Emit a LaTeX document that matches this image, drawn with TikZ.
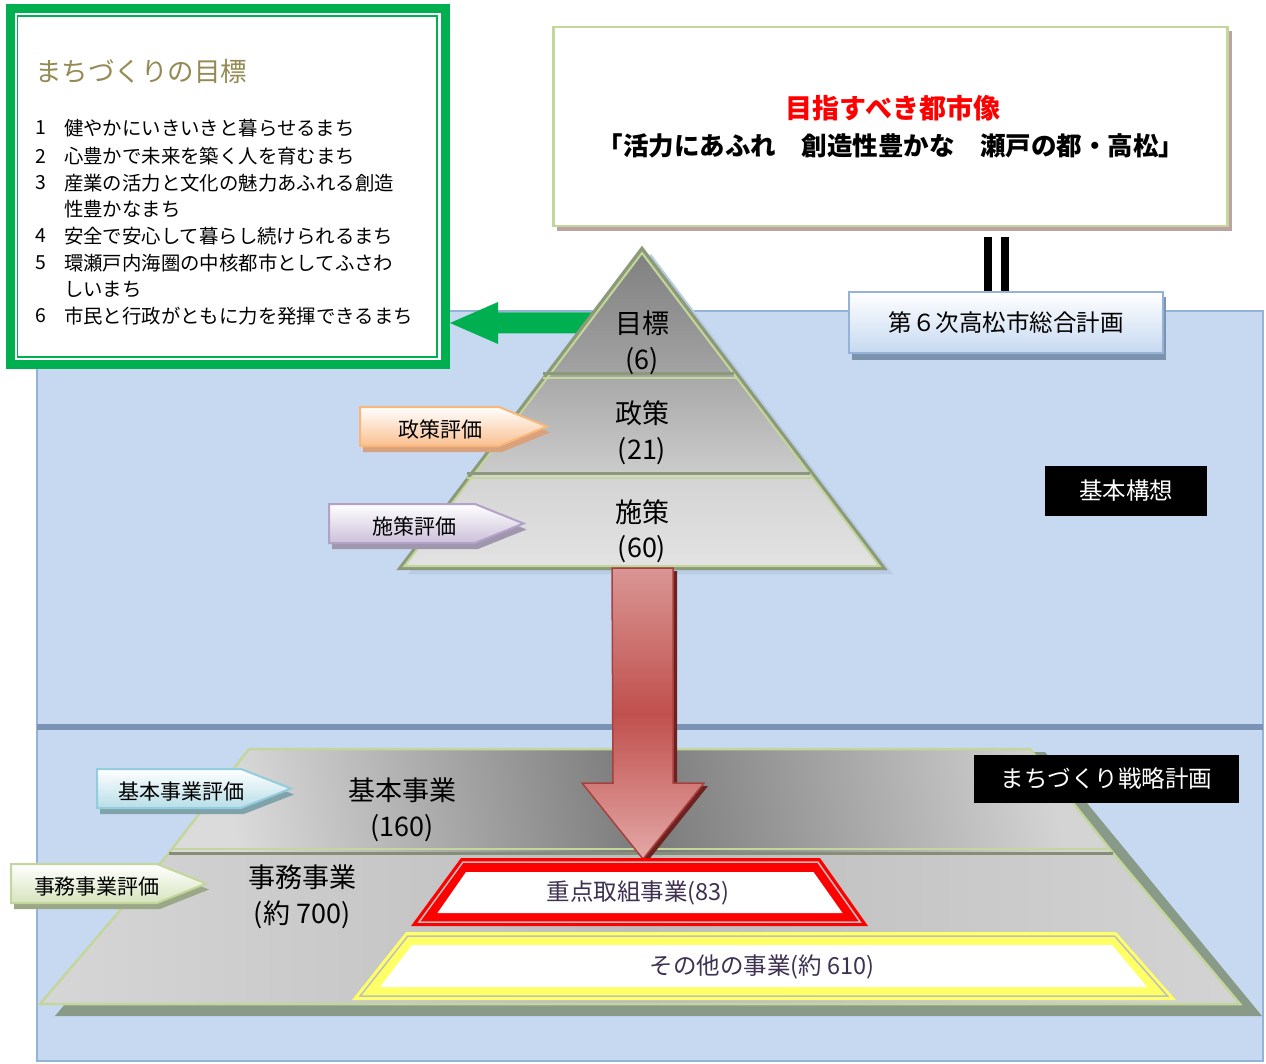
\documentclass[tikz,border=0pt]{standalone}
\usepackage{fontspec}
\setmainfont{Noto Sans CJK JP}
\usetikzlibrary{calc}
\definecolor{panelblue}{HTML}{C6D9F1}
\definecolor{panelborder}{HTML}{95B3D7}
\definecolor{sepcol}{HTML}{7B93B4}
\definecolor{mgreen}{HTML}{00B050}
\definecolor{olivetitle}{HTML}{948A54}
\definecolor{lgreen}{HTML}{C3D69B}
\definecolor{pyrdark}{HTML}{8C9A7A}
\definecolor{boxshadow}{HTML}{BBA3A3}
\definecolor{gsixblue}{HTML}{C6D9F1}
\definecolor{gsixshadow}{HTML}{7D92AD}
\definecolor{lowshadow}{HTML}{8A9A88}
\definecolor{darkpurple}{HTML}{3F3151}
\definecolor{ryellow}{HTML}{FFFF66}
\definecolor{pyrshadow}{HTML}{B8CCE4}
\definecolor{orshadow}{HTML}{D9A27C}
\definecolor{orfill}{HTML}{FAC090}
\definecolor{ordraw}{HTML}{F9B77C}
\definecolor{pushadow}{HTML}{A096AE}
\definecolor{pufill}{HTML}{CCC0DA}
\definecolor{pudraw}{HTML}{B3A2C7}
\definecolor{cyshadow}{HTML}{7FA2AB}
\definecolor{cyfill}{HTML}{B7DEE8}
\definecolor{cydraw}{HTML}{93CDDD}
\definecolor{gnshadow}{HTML}{9BA888}
\definecolor{gnfill}{HTML}{D7E4BD}
\definecolor{gndraw}{HTML}{C3D69B}
\definecolor{divdark}{HTML}{858F78}
\definecolor{rashadow}{HTML}{6E2220}
\definecolor{ratop}{HTML}{D99694}
\definecolor{ramid}{HTML}{C0504D}
\definecolor{rabot}{HTML}{E3A8A6}
\definecolor{radraw}{HTML}{A8403D}
\definecolor{framegray}{HTML}{BFBFBF}
\newcommand{\fsz}[1]{\fontsize{#1}{#1}\selectfont}
\begin{document}
\begin{tikzpicture}[x=1pt,y=-1pt,
  txt/.style={inner sep=0pt, outer sep=0pt},
  blackbox/.style={fill=black, text=white, inner sep=0pt, font=\fsz{23.5}},
  pyrtext/.style={txt, font=\fsz{27}},
  evtext/.style={txt, font=\fsz{21}},
  listtext/.style={txt, anchor=west, font=\fsz{19.4}},
  frametext/.style={txt, text=darkpurple, font=\fsz{23.5}},
  edgeline/.style={lgreen, line width=2.5, line join=miter}]
\useasboundingbox (0,0) rectangle (1266,1064);
\fill[white] (0,0) rectangle (1266,1064);

% ---------- blue panel ----------
\fill[panelblue] (37,311) rectangle (1263,1061);
\draw[panelborder, line width=2] (37,311) rectangle (1263,1061);
\draw[sepcol, line width=6] (37,727) -- (1263,727);

% ---------- goal box ----------
\node[draw=mgreen, line width=9, fill=white, minimum width=435pt, minimum height=356pt, inner sep=0pt] (goal) at (228,186.5) {};
\draw[mgreen, line width=1.5] (17.5,16) rectangle (437,357);
\node[txt, anchor=west, text=olivetitle, font=\fsz{26.5}] (goaltitle) at (35,71) {まちづくりの目標};
\node[listtext] (n1) at (35,128) {1};
\node[listtext] (t1) at (64,128) {健やかにいきいきと暮らせるまち};
\node[listtext] (n2) at (35,156) {2};
\node[listtext] (t2) at (64,156) {心豊かで未来を築く人を育むまち};
\node[listtext] (n3) at (35,183) {3};
\node[listtext] (t3) at (64,183) {産業の活力と文化の魅力あふれる創造};
\node[listtext] (t3b) at (64,209) {性豊かなまち};
\node[listtext] (n4) at (35,236) {4};
\node[listtext] (t4) at (64,236) {安全で安心して暮らし続けられるまち};
\node[listtext] (n5) at (35,263) {5};
\node[listtext] (t5) at (64,263) {環瀬戸内海圏の中核都市としてふさわ};
\node[listtext] (t5b) at (64,289) {しいまち};
\node[listtext] (n6) at (35,316) {6};
\node[listtext] (t6) at (64,316) {市民と行政がともに力を発揮できるまち};

% ---------- vision box ----------
\fill[boxshadow] (557,31) rectangle (1231.5,231);
\node[draw=lgreen, line width=2.5, fill=white, minimum width=674pt, minimum height=199pt, inner sep=0pt] (vision) at (890.5,126.5) {};
\node[txt, text=red, font=\bfseries\fsz{27}] (visiontitle) at (893,108) {目指すべき都市像};
\node[txt, font=\bfseries\fsz{25.5}] (visionline) at (891,146) {「活力にあふれ　創造性豊かな　瀬戸の都・高松」};

% ---------- general plan box ----------
\fill[gsixshadow] (852,297) rectangle (1166,360);
\node[draw=panelborder, line width=2.5, top color=white, bottom color=gsixblue, minimum width=314pt, minimum height=61pt, inner sep=0pt, font=\fsz{23.5}] (g6) at (1006,322.5) {第６次高松市総合計画};
\draw[black, line width=8, shorten >=10pt] ([xshift=-18pt]g6.north) -- ([xshift=-18pt]g6.north |- vision.south);
\draw[black, line width=8, shorten >=10pt] ([xshift=-1pt]g6.north) -- ([xshift=-1pt]g6.north |- vision.south);

% ---------- green arrow ----------
\coordinate (gaS) at (600,323);
\path (goal.east |- gaS) coordinate (gaT);
\fill[mgreen] (gaT) -- ++(48,-21) -- ++(0,10.5) -- ++(102,0) -- ++(0,21) -- ++(-102,0) -- ++(0,10.5) -- cycle;

% ---------- pyramid ----------
\fill[pyrshadow] (651,254) -- (893,574) -- (408,574) -- cycle;
\shade[top color=black!50, bottom color=black!36] (642,249) -- (738,376) -- (546,376) -- cycle;
\shade[top color=black!34, bottom color=black!20] (546,376) -- (738,376) -- (813,475) -- (471,475) -- cycle;
\shade[top color=black!17, bottom color=black!11] (471,475) -- (813,475) -- (883.5,568) -- (400.5,568) -- cycle;
\draw[pyrdark, line width=4, line join=miter] (642,249) -- (883.5,568) -- (400.5,568) -- cycle;
\draw[lgreen, line width=2, line join=miter] (642,253) -- (879.5,566) -- (404.5,566) -- cycle;
\draw[pyrdark, line width=3] (543,374) -- (734,374);
\draw[lgreen, line width=2] (543,378.5) -- (736,378.5);
\draw[pyrdark, line width=3] (467,473) -- (810,473);
\draw[lgreen, line width=2] (467,477.5) -- (812,477.5);
\node[pyrtext] (p1) at (642,323) {目標};
\node[pyrtext] (p1n) at (642,361) {(6)};
\node[pyrtext] (p2) at (642,413) {政策};
\node[pyrtext] (p2n) at (642,451) {(21)};
\node[pyrtext] (p3) at (642,512) {施策};
\node[pyrtext] (p3n) at (642,549) {(60)};

% ---------- evaluation arrows (upper) ----------
\fill[orshadow] (363,413) -- (502,413) -- (550,432.5) -- (502,452) -- (363,452) -- cycle;
\shade[top color=white, bottom color=orfill, draw=ordraw, line width=2] (360,407) -- (499,407) -- (547,426.5) -- (499,446) -- (360,446) -- cycle;
\node[evtext] (e1) at (440,429) {政策評価};
\fill[pushadow] (332,510) -- (478,510) -- (526.5,529.5) -- (478,549) -- (332,549) -- cycle;
\shade[top color=white, bottom color=pufill, draw=pudraw, line width=2] (329,504) -- (475,504) -- (523.5,523.5) -- (475,543) -- (329,543) -- cycle;
\node[evtext] (e2) at (414,526) {施策評価};

% ---------- lower trapezoid ----------
\fill[lowshadow] (261,761) -- (1045,752) -- (1262,1016) -- (55,1016) -- (181,865) -- cycle;
\shade[left color=black!14, right color=black!17, middle color=black!52, shading angle=100] (249,749) -- (1030,749) -- (1113,853) -- (169,853) -- cycle;
\shade[left color=black!16, right color=black!17, middle color=black!26] (169,853) -- (1113,853) -- (1240,1004) -- (40,1004) -- cycle;
\draw[edgeline] (249,749) -- (1030,749) -- (1113,853);
\draw[edgeline] (169,853) -- (249,749);
\draw[edgeline] (1113,853) -- (1240,1004) -- (40,1004) -- (169,853);
\draw[lgreen, line width=2] (171,849) -- (1110,849);
\draw[divdark, line width=2.5] (169,853.5) -- (1113,853.5);
\node[pyrtext] (b1) at (402,790) {基本事業};
\node[pyrtext] (b1n) at (402,828) {(160)};
\node[pyrtext] (b2) at (302,877) {事務事業};
\node[pyrtext] (b2n) at (302,915) {(約 700)};

% ---------- evaluation arrows (lower) ----------
\fill[cyshadow] (100,775) -- (244,775) -- (294,794.5) -- (244,814) -- (100,814) -- cycle;
\shade[top color=white, bottom color=cyfill, draw=cydraw, line width=2] (97,769) -- (241,769) -- (291,788.5) -- (241,808) -- (97,808) -- cycle;
\node[evtext] (e3) at (181,792) {基本事業評価};
\fill[gnshadow] (14,870) -- (160,870) -- (209,889.5) -- (160,909) -- (14,909) -- cycle;
\shade[top color=white, bottom color=gnfill, draw=gndraw, line width=2] (11,864) -- (157,864) -- (206,883.5) -- (157,903) -- (11,903) -- cycle;
\node[evtext] (e4) at (97,887) {事務事業評価};

% ---------- red arrow ----------
\coordinate (raTop) at (642.5,568);
\fill[rashadow] ($(raTop)+(4,3)$) -- ++(30.5,0) -- ++(0,215) -- ++(31,0) -- ++(-61,76) -- ++(-61,-76) -- ++(30.5,0) -- cycle;
\shade[top color=ratop, bottom color=rabot, middle color=ramid, draw=radraw, line width=1.5, line join=miter] (raTop) ++(-30.5,0) -- ++(61,0) -- ++(0,215) -- ++(31,0) -- ++(-61,76) -- ++(-61,-76) -- ++(31,0) -- cycle;

% ---------- key projects frame ----------
\fill[red] (461,858) -- (820,858) -- (868,926) -- (411,926) -- cycle;
\draw[framegray, line width=1.5, line join=miter] (463,862) -- (817.8,862) -- (860.2,922) -- (419,922) -- cycle;
\fill[white] (466,872) -- (813.5,872) -- (842.5,913) -- (437.5,913) -- cycle;
\node[frametext] (k1) at (638,893) {重点取組事業(83)};

% ---------- other projects frame ----------
\fill[ryellow] (406,932) -- (1116,932) -- (1176,1000) -- (352,1000) -- cycle;
\draw[framegray, line width=1.5, line join=miter] (407.8,936) -- (1114.5,936) -- (1167.5,996) -- (360.2,996) -- cycle;
\fill[white] (412,945) -- (1112,945) -- (1147,987) -- (380,987) -- cycle;
\node[frametext] (k2) at (762,967) {その他の事業(約 610)};

% ---------- black labels ----------
\node[blackbox, minimum width=162pt, minimum height=50pt] (kihon) at (1126,491) {基本構想};
\node[blackbox, minimum width=265.5pt, minimum height=48pt] (senryaku) at (1106.5,779) {まちづくり戦略計画};
\end{tikzpicture}
\end{document}
